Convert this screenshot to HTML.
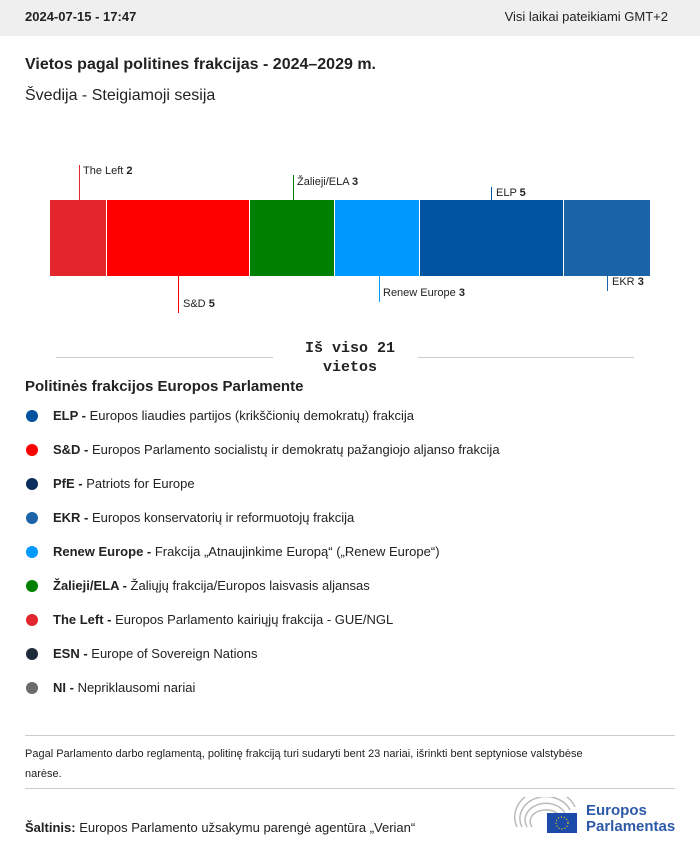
<!DOCTYPE html>
<html><head><meta charset="utf-8"><style>
body{margin:0;width:700px;height:853px;background:#fff;font-family:"Liberation Sans",sans-serif;color:#222;position:relative;overflow:hidden}
.hdr{position:absolute;left:0;top:0;width:700px;height:36px;background:#efefef}
.a{position:absolute;white-space:nowrap}
.seg{position:absolute;top:200px;height:76px}
.ln{position:absolute;width:1px}
.lab{position:absolute;font-size:11px;white-space:nowrap}
.lg{position:absolute;left:53px;font-size:13px;white-space:nowrap}
.dot{position:absolute;left:26px;width:12px;height:12px;border-radius:50%}
</style></head><body>
<div class="hdr"></div>
<div class="a" style="left:25px;top:9px;font-size:13px;font-weight:bold">2024-07-15 - 17:47</div>
<div class="a" style="right:32px;top:9px;font-size:13px">Visi laikai pateikiami GMT+2</div>
<div class="a" style="left:25px;top:56px;font-size:16px;font-weight:bold">Vietos pagal politines frakcijas - 2024–2029 m.</div>
<div class="a" style="left:25px;top:87px;font-size:16px">Švedija - Steigiamoji sesija</div>

<div class="seg" style="left:50px;width:56px;background:#e3262b"></div>
<div class="seg" style="left:107px;width:142px;background:#ff0000"></div>
<div class="seg" style="left:250px;width:84px;background:#008000"></div>
<div class="seg" style="left:335px;width:84px;background:#0099ff"></div>
<div class="seg" style="left:420px;width:143px;background:#0054a0"></div>
<div class="seg" style="left:564px;width:86px;background:#1b64a8"></div>

<div class="ln" style="left:79px;top:165px;height:35px;background:#e3262b"></div>
<div class="lab" style="left:83px;top:165px">The Left <b>2</b></div>
<div class="ln" style="left:293px;top:175px;height:25px;background:#008000"></div>
<div class="lab" style="left:297px;top:176px">Žalieji/ELA <b>3</b></div>
<div class="ln" style="left:491px;top:187px;height:13px;background:#0054a0"></div>
<div class="lab" style="left:496px;top:187px">ELP <b>5</b></div>
<div class="ln" style="left:178px;top:276px;height:37px;background:#ff0000"></div>
<div class="lab" style="left:183px;top:298px">S&amp;D <b>5</b></div>
<div class="ln" style="left:379px;top:276px;height:26px;background:#0099ff"></div>
<div class="lab" style="left:383px;top:287px">Renew Europe <b>3</b></div>
<div class="ln" style="left:607px;top:276px;height:15px;background:#1b64a8"></div>
<div class="lab" style="left:612px;top:276px">EKR <b>3</b></div>

<div class="a" style="left:56px;top:357px;width:217px;height:1px;background:#ccc"></div>
<div class="a" style="left:418px;top:357px;width:216px;height:1px;background:#ccc"></div>
<div class="a" style="left:290px;top:339px;width:120px;text-align:center;font-family:'Liberation Mono',monospace;font-weight:bold;font-size:15px;line-height:19px;white-space:normal">Iš viso 21 vietos</div>

<div class="a" style="left:25px;top:378px;font-size:15px;font-weight:bold">Politinės frakcijos Europos Parlamente</div>

<div class="dot" style="top:410px;background:#0054a0"></div><div class="lg" style="top:408px"><b>ELP -</b> Europos liaudies partijos (krikščionių demokratų) frakcija</div>
<div class="dot" style="top:444px;background:#ff0000"></div><div class="lg" style="top:442px"><b>S&amp;D -</b> Europos Parlamento socialistų ir demokratų pažangiojo aljanso frakcija</div>
<div class="dot" style="top:478px;background:#0c2e5c"></div><div class="lg" style="top:476px"><b>PfE -</b> Patriots for Europe</div>
<div class="dot" style="top:512px;background:#1b64a8"></div><div class="lg" style="top:510px"><b>EKR -</b> Europos konservatorių ir reformuotojų frakcija</div>
<div class="dot" style="top:546px;background:#0099ff"></div><div class="lg" style="top:544px"><b>Renew Europe -</b> Frakcija „Atnaujinkime Europą“ („Renew Europe“)</div>
<div class="dot" style="top:580px;background:#008000"></div><div class="lg" style="top:578px"><b>Žalieji/ELA -</b> Žaliųjų frakcija/Europos laisvasis aljansas</div>
<div class="dot" style="top:614px;background:#e3262b"></div><div class="lg" style="top:612px"><b>The Left -</b> Europos Parlamento kairiųjų frakcija - GUE/NGL</div>
<div class="dot" style="top:648px;background:#1e2a3a"></div><div class="lg" style="top:646px"><b>ESN -</b> Europe of Sovereign Nations</div>
<div class="dot" style="top:682px;background:#6b6b6b"></div><div class="lg" style="top:680px"><b>NI -</b> Nepriklausomi nariai</div>

<div class="a" style="left:25px;top:735px;width:650px;height:1px;background:#ccc"></div>
<div class="a" style="left:25px;top:744px;width:590px;font-size:11px;line-height:20px;white-space:normal">Pagal Parlamento darbo reglamentą, politinę frakciją turi sudaryti bent 23 nariai, išrinkti bent septyniose valstybėse narėse.</div>
<div class="a" style="left:25px;top:788px;width:650px;height:1px;background:#ccc"></div>
<div class="a" style="left:25px;top:820px;font-size:13px"><b>Šaltinis:</b> Europos Parlamento užsakymu parengė agentūra „Verian“</div>

<svg class="a" style="left:513px;top:797px" width="70" height="40" viewBox="0 0 70 40">
<g fill="none" stroke="#bbb" stroke-width="1.5">
<path d="M4 30 A30 26 0 0 1 62 10"/><path d="M9 30 A25 21 0 0 1 57 13"/><path d="M14 30 A20 16 0 0 1 52 16"/><path d="M19 30 A15 11 0 0 1 47 19"/>
</g>
<rect x="34" y="16" width="30" height="20" fill="#1b4aa8"/>
<circle cx="49" cy="26" r="6" fill="none" stroke="#ffdd00" stroke-width="1.2" stroke-dasharray="1 2"/>
</svg>
<div class="a" style="left:586px;top:803px;font-size:15px;font-weight:bold;color:#2d5aa8;line-height:16px">Europos<br>Parlamentas</div>
</body></html>
